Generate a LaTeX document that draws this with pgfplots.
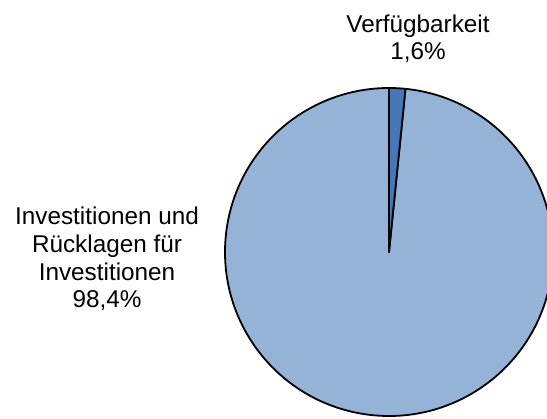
\documentclass[border=0pt]{standalone}
\usepackage{pgfplots}
\usepackage{pgfplotstable}
\pgfplotsset{compat=1.18}
\usepackage{fontspec}
\setmainfont{Liberation Sans}
\definecolor{lightslice}{RGB}{149,179,215}
\definecolor{darkslice}{RGB}{70,120,185}
\pgfplotstableread{
label value
Verfuegbarkeit 1.6
Investitionen 98.4
}\piedata
\begin{document}
\begin{tikzpicture}
\pgfplotstablegetelem{0}{value}\of\piedata
\pgfmathsetmacro\angA{90-3.6*\pgfplotsretval}
\path[use as bounding box] (0,0) rectangle (547bp,419bp);
\begin{axis}[
  at={(0,0)}, anchor=south west,
  width=547bp, height=419bp, scale only axis,
  xmin=0, xmax=547, ymin=0, ymax=419,
  hide axis, clip=true,
]
\fill[lightslice, draw=black, line width=1.8bp, line join=round]
  (axis cs:389,167) -- ++(\angA:164bp) arc[start angle=\angA, end angle=-270, radius=164bp] -- cycle;
\fill[darkslice, draw=black, line width=1.8bp, line join=round]
  (axis cs:389,167) -- ++(90:164bp) arc[start angle=90, end angle=\angA, radius=164bp] -- cycle;
\end{axis}
\begin{scope}[every node/.style={anchor=base, inner sep=0pt, font=\fontsize{24.3bp}{28bp}\selectfont}]
\node at (418bp,386bp) {Verfügbarkeit};
\node at (418bp,359bp) {1,6\%};
\node at (107bp,194bp) {Investitionen und};
\node at (107bp,166bp) {Rücklagen für};
\node at (107bp,138bp) {Investitionen};
\node at (107bp,111bp) {98,4\%};
\end{scope}
\end{tikzpicture}
\end{document}
